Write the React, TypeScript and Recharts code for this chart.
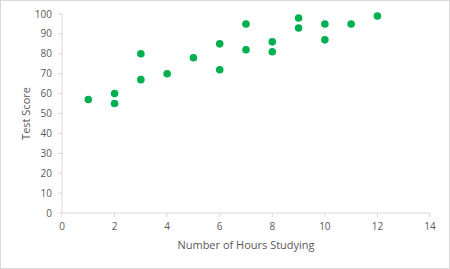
import React from 'react';
import { ScatterChart, Scatter, XAxis, YAxis, Label } from 'recharts';

const hours = [1, 2, 2, 3, 3, 4, 5, 6, 6, 7, 7, 8, 8, 9, 9, 10, 10, 11, 12];
const scores = [57, 60, 55, 80, 67, 70, 78, 85, 72, 95, 82, 86, 81, 98, 93, 95, 87, 95, 99];
const xTicks = [0, 2, 4, 6, 8, 10, 12, 14];
const yTicks = [0, 10, 20, 30, 40, 50, 60, 70, 80, 90, 100];

const data = hours.map((h, i) => ({ hours: h, score: scores[i] }));

const FONT = '"Open Sans", "Liberation Sans", sans-serif';
const AXIS = '#d9d9d9';
const TEXT = '#595959';

const YTitle = (props: any) => {
  const vb = props.viewBox || {};
  const cx = 25;
  const cy = vb.y + vb.height / 2;
  return (
    <text x={cx} y={cy} transform={`rotate(-90 ${cx} ${cy})`} textAnchor="middle" dominantBaseline="central"
      fill={TEXT} fontSize={11} fontFamily={FONT}>Test Score</text>
  );
};

const XTitle = (props: any) => {
  const vb = props.viewBox || {};
  const cx = vb.x + vb.width / 2;
  return (
    <text x={cx} y={249} textAnchor="middle" fill={TEXT} fontSize={11} fontFamily={FONT}>
      Number of Hours Studying
    </text>
  );
};

export default function App() {
  return (
    <div style={{ position: 'absolute', left: 0, top: 0, width: 450, height: 269, border: '1px solid #d9d9d9', boxSizing: 'border-box', background: '#fff' }}>
      <div style={{ position: 'absolute', left: -1, top: -1 }}>
        <ScatterChart width={450} height={269} margin={{ top: 14, right: 20, bottom: 0, left: 0 }}>
          <XAxis type="number" dataKey="hours" domain={[0, 14]} ticks={xTicks} interval={0}
            stroke={AXIS} tickSize={4} tickMargin={6} height={56}
            tick={{ fill: TEXT, fontSize: 10, fontFamily: FONT }}>
            <Label content={<XTitle />} />
          </XAxis>
          <YAxis type="number" dataKey="score" domain={[0, 100]} ticks={yTicks} interval={0}
            stroke={AXIS} tickSize={4} tickMargin={6} width={62}
            tick={{ fill: TEXT, fontSize: 10, fontFamily: FONT }}>
            <Label content={<YTitle />} />
          </YAxis>
          <Scatter data={data} fill="#00b050" isAnimationActive={false}
            shape={(p: any) => <circle cx={p.cx} cy={p.cy} r={3.8} fill="#00b050" />} />
        </ScatterChart>
      </div>
    </div>
  );
}
